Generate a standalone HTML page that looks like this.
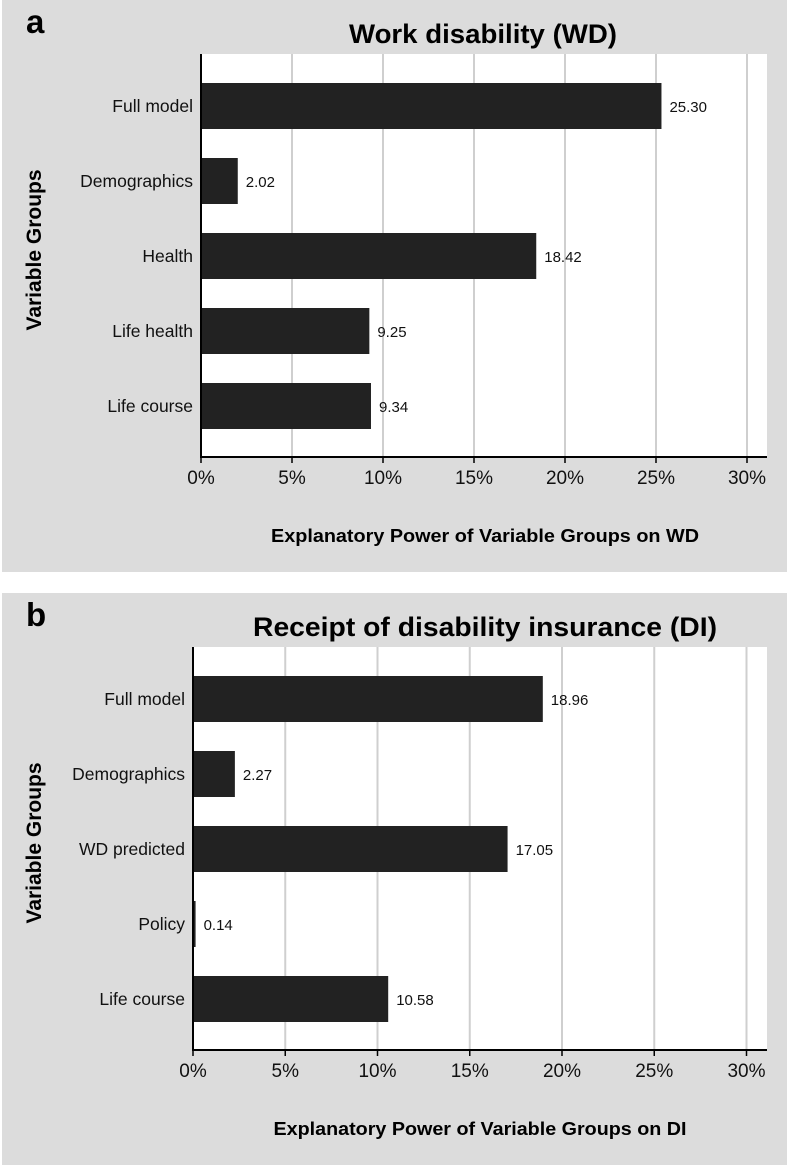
<!DOCTYPE html>
<html><head><meta charset="utf-8">
<style>
html,body{margin:0;padding:0;background:#fff;}
svg{display:block;font-family:"Liberation Sans",Arial,sans-serif;}
</style></head>
<body>
<svg id="chart" width="787" height="1165" viewBox="0 0 787 1165"></svg>
<script>
const catsA = ["Full model","Demographics","Health","Life health","Life course"];
const valsA = [25.30, 2.02, 18.42, 9.25, 9.34];
const catsB = ["Full model","Demographics","WD predicted","Policy","Life course"];
const valsB = [18.96, 2.27, 17.05, 0.14, 10.58];
const ticks = [0,5,10,15,20,25,30];
const tickLabels = ["0%","5%","10%","15%","20%","25%","30%"];

const NS="http://www.w3.org/2000/svg";
const svg=document.getElementById('chart');
function mk(tag,attrs,parent,text){const e=document.createElementNS(NS,tag);for(const k in attrs)e.setAttribute(k,attrs[k]);if(text!==undefined)e.textContent=text;(parent||svg).appendChild(e);return e;}

function panel(cfg){
  const g=mk('g',{});
  
  
  const bg=mk('rect',{x:2,y:cfg.top,width:785,height:cfg.h,fill:'#dcdcdc'},g);
  
  
  const oy=cfg.top;
  const x0=cfg.ax, k=cfg.k, right=767;
  const xs=v=>x0+v*k;
  const plotTop=oy+54, axisY=oy+457;
  const pr=mk('rect',{x:x0,y:plotTop,width:right-x0,height:axisY-plotTop,fill:'#fff'},g);
  
  
  ticks.forEach((t,i)=>{
    if(t>0){const gl=mk('line',{x1:xs(t),x2:xs(t),y1:plotTop,y2:axisY,stroke:'#cfcfcf','stroke-width':2},g);
      
      }
    const tm=mk('line',{x1:xs(t),x2:xs(t),y1:axisY,y2:axisY+6,stroke:'#000','stroke-width':1.5},g);
    
    
    const tl=mk('text',{x:xs(t),y:axisY+27,'font-size':19,'text-anchor':'middle',fill:'#111'},g,tickLabels[i]);
    
    
  });
  const bandY=i=>oy+106+75*i;
  cfg.cats.forEach((c,i)=>{
    const cy=bandY(i);
    const b=mk('rect',{x:x0,y:cy-23,width:xs(cfg.vals[i])-x0,height:46,fill:'#222'},g);
    
    
    const lb=mk('text',{x:x0-8,y:cy+6,'font-size':17.5,'text-anchor':'end',fill:'#111'},g,c);
    
    
    const vl=mk('text',{x:xs(cfg.vals[i])+8,y:cy+6,'font-size':15,fill:'#111'},g,cfg.vals[i].toFixed(2));
    
    
  });
  const ya=mk('line',{x1:x0,x2:x0,y1:plotTop,y2:axisY+1,stroke:'#000','stroke-width':2},g);
  
  
  const xa=mk('line',{x1:x0-1,x2:right,y1:axisY,y2:axisY,stroke:'#000','stroke-width':2},g);
  
  
  const pl=mk('text',{x:26,y:oy+33,'font-size':33,'font-weight':'bold',fill:'#000'},g,cfg.letter);
  
  
  const ti=mk('text',{x:cfg.tcx,y:oy+43,'font-size':27,'font-weight':'bold','text-anchor':'middle',fill:'#000',textLength:cfg.tw,lengthAdjust:'spacingAndGlyphs'},g,cfg.title);
  
  
  const xt=mk('text',{x:cfg.xtc,y:oy+542,'font-size':18,'font-weight':'bold','text-anchor':'middle',fill:'#000',textLength:cfg.xtw,lengthAdjust:'spacingAndGlyphs'},g,cfg.xtitle);
  
  
  const yt=mk('text',{x:0,y:0,'font-size':21,'font-weight':'bold','text-anchor':'middle',fill:'#000',transform:`translate(41,${oy+250}) rotate(-90)`},g,'Variable Groups');
  
  
}
panel({name:'panel-a',top:0,h:572,ax:201,k:18.2,cats:catsA,vals:valsA,letter:'a',title:'Work disability (WD)',tcx:483,tw:268,xtitle:'Explanatory Power of Variable Groups on WD',xtc:485,xtw:428});
panel({name:'panel-b',top:593,h:572,ax:193,k:18.45,cats:catsB,vals:valsB,letter:'b',title:'Receipt of disability insurance (DI)',tcx:485,tw:464,xtitle:'Explanatory Power of Variable Groups on DI',xtc:480,xtw:413});
</script>
</body></html>
